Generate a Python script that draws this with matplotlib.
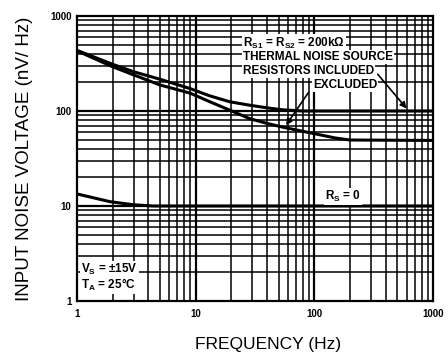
import numpy as np
import matplotlib
matplotlib.use("Agg")
import matplotlib.pyplot as plt

plt.rcParams['font.family'] = ['Liberation Sans', 'DejaVu Sans']
plt.rcParams['mathtext.fontset'] = 'custom'
plt.rcParams['mathtext.bf'] = 'Liberation Sans:bold'
plt.rcParams['mathtext.rm'] = 'Liberation Sans'

f_inc = [1, 2, 3, 5, 9, 13, 19.4, 28.6, 42, 54, 80, 1000]
v_inc = [435, 310, 259, 216, 172, 145, 125, 115, 107, 103, 100, 100]

f_exc = [1, 2, 3, 5, 9, 13, 19.4, 28.6, 40, 56, 92, 150, 200, 1000]
v_exc = [430, 292, 240, 188, 154, 126, 102, 83, 74, 67, 59, 52, 49.5, 49]

f_rs0 = [1, 1.9, 3, 4.4, 10, 100, 1000]
v_rs0 = [13.4, 11.1, 10.3, 10, 10, 10, 10]

xticks = [1, 10, 100, 1000]
xticklabels = ['1', '10', '100', '1000']
yticks = [1, 10, 100, 1000]
yticklabels = ['1', '10', '100', '1000']

fig = plt.figure(figsize=(4.48, 3.63), dpi=100)
ax = fig.add_axes([77/448, 62/363, 356/448, 285/363])

ax.set_xscale('log')
ax.set_yscale('log')
ax.set_xlim(1, 1000)
ax.set_ylim(1, 1000)

# grid
for d in [1, 10, 100]:
    for m in range(2, 10):
        ax.axvline(d*m, color='black', lw=1.1, zorder=1)
        ax.axhline(d*m, color='black', lw=1.1, zorder=1)
for d in [10, 100]:
    ax.axvline(d, color='black', lw=1.6, zorder=1)
    ax.axhline(d, color='black', lw=1.6, zorder=1)

ax.plot(f_inc, v_inc, color='black', lw=2.2, zorder=3)
ax.plot(f_exc, v_exc, color='black', lw=2.2, zorder=3)
ax.plot(f_rs0, v_rs0, color='black', lw=2.2, zorder=3)

for s in ax.spines.values():
    s.set_linewidth(1.6)

ax.set_xticks(xticks)
ax.set_xticklabels(xticklabels, fontsize=7, fontweight='bold')
ax.set_yticks(yticks)
ax.set_yticklabels(yticklabels, fontsize=7, fontweight='bold')
ax.minorticks_off()
ax.tick_params(length=0, pad=4)
ax.xaxis.set_tick_params(pad=6)

ax.set_xlabel('FREQUENCY (Hz)', fontsize=12.5)
ax.xaxis.set_label_coords((268-77)/356, -(336-300)/285)
ax.set_ylabel('INPUT NOISE VOLTAGE (nV/ Hz)', fontsize=13.5, labelpad=12)

box = dict(facecolor='white', edgecolor='none', pad=0.8)
tk = dict(fontsize=8.5, fontweight='bold', transform=ax.transAxes, zorder=5,
          va='center', ha='left')
ax.text((243-77)/356, (300-43)/284, r'$\mathbf{R_{S1}}$ = $\mathbf{R_{S2}}$ = 200kΩ', bbox=box, **tk)
ax.text((243-77)/356, (300-57)/284, 'THERMAL NOISE SOURCE', bbox=box, **tk)
ax.text((243-77)/356, (300-71)/284, 'RESISTORS INCLUDED', bbox=box, **tk)
ax.text((313-77)/356, (300-85)/284, 'EXCLUDED', bbox=box, **tk)
ax.text((325-77)/356, (300-196)/284, r'$\mathbf{R_{S}}$ = 0', bbox=box, **tk)
ax.text((81-77)/356, (300-269)/284, r'$\mathbf{V_{S}}$ = ±15V', bbox=box, **tk)
ax.text((81-77)/356, (300-284)/284, r'$\mathbf{T_{A}}$ = 25°C', bbox=box, **tk)

arr = dict(arrowstyle='-|>', color='black', lw=1.2, mutation_scale=9)
ax.annotate('', xy=(620, 101), xycoords='data',
            xytext=((376-77)/356, (300-72)/284), textcoords='axes fraction',
            arrowprops=arr, zorder=6)
ax.annotate('', xy=(56, 67), xycoords='data',
            xytext=((310-77)/356, (300-90)/284), textcoords='axes fraction',
            arrowprops=arr, zorder=6)

fig.savefig('out.png', dpi=100)
